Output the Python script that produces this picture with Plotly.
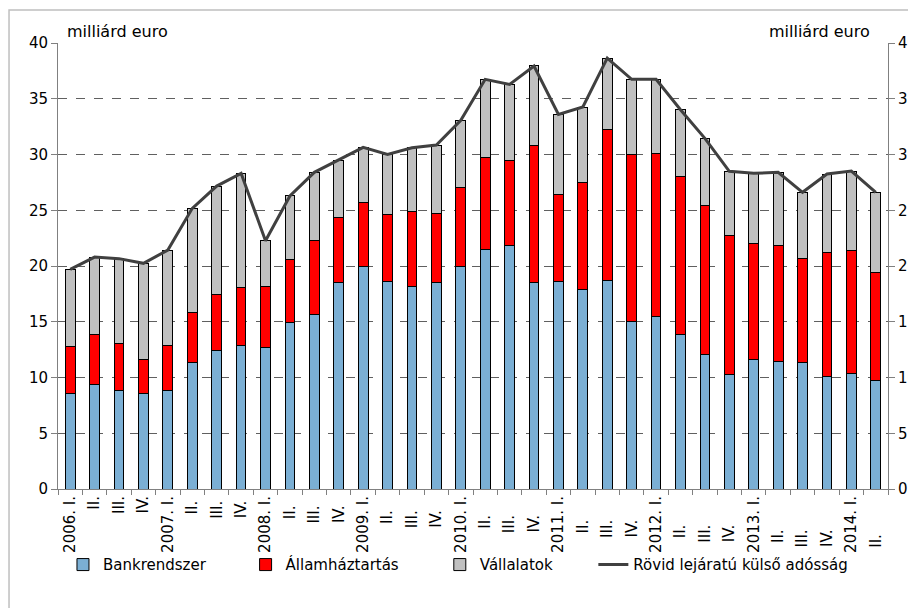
import plotly.graph_objects as go

quarters = ["2006. I.", "II.", "III.", "IV.",
            "2007. I.", "II. ", "III. ", "IV. ",
            "2008. I.", "II.  ", "III.  ", "IV.  ",
            "2009. I.", "II.   ", "III.   ", "IV.   ",
            "2010. I.", "II.    ", "III.    ", "IV.    ",
            "2011. I.", "II.     ", "III.     ", "IV.     ",
            "2012. I.", "II.      ", "III.      ", "IV.      ",
            "2013. I.", "II.       ", "III.       ", "IV.       ",
            "2014. I.", "II.        "]

# cumulative tops (milliárd euro)
bank = [8.58, 9.39, 8.79, 8.55, 8.85, 11.36, 12.44, 12.86, 12.71, 14.95, 15.67, 18.5,
        19.97, 18.6, 18.18, 18.5, 19.97, 21.5, 21.82, 18.5, 18.6, 17.85, 18.69, 15.01,
        15.46, 13.9, 12.02, 10.25, 11.6, 11.42, 11.36, 10.13, 10.34, 9.75]
red_top = [12.76, 13.87, 13.03, 11.63, 12.88, 15.85, 17.46, 18.06, 18.18, 20.6, 22.33, 24.38,
           25.68, 24.63, 24.9, 24.72, 27.02, 29.75, 29.42, 30.85, 26.43, 27.53, 32.23, 30.02,
           30.1, 28.07, 25.41, 22.78, 22.03, 21.85, 20.66, 21.23, 21.35, 19.46]
total = [19.7, 20.8, 20.66, 20.24, 21.43, 25.17, 27.17, 28.31, 22.27, 26.28, 28.4, 29.5,
         30.64, 30.01, 30.61, 30.85, 33.06, 36.74, 36.29, 37.94, 33.6, 34.26, 38.65, 36.74,
         36.74, 34.02, 31.45, 28.49, 28.31, 28.4, 26.61, 28.25, 28.52, 26.61]

allam = [round(r - b, 2) for r, b in zip(red_top, bank)]
vall = [round(t - r, 2) for t, r in zip(total, red_top)]
rovid = total

FONT = "DejaVu Sans"
outline = dict(color="black", width=1)

fig = go.Figure()
fig.add_trace(go.Bar(x=quarters, y=bank, name="Bankrendszer",
                     marker=dict(color="#7BAFD4", line=outline), legend="legend"))
fig.add_trace(go.Bar(x=quarters, y=allam, name="Államháztartás",
                     marker=dict(color="#FF0000", line=outline), legend="legend2"))
fig.add_trace(go.Bar(x=quarters, y=vall, name="Vállalatok",
                     marker=dict(color="#C0C0C0", line=outline), legend="legend3"))
fig.add_trace(go.Scatter(x=quarters, y=rovid, name="Rövid lejáratú külső adósság",
                         mode="lines", line=dict(color="#404040", width=3), legend="legend4"))
# invisible trace to activate right axis
fig.add_trace(go.Scatter(x=quarters[:1], y=[0], yaxis="y2", mode="lines",
                         line=dict(width=0), showlegend=False, hoverinfo="skip"))

leg_common = dict(orientation="h", yanchor="middle", y=-0.170, xanchor="left",
                  font=dict(family=FONT, size=15, color="black"),
                  bgcolor="rgba(0,0,0,0)")
fig.update_layout(
    barmode="stack",
    bargap=0.6,
    width=908, height=600,
    margin=dict(l=50, r=28, t=35, b=119, autoexpand=False),
    paper_bgcolor="white", plot_bgcolor="white",
    font=dict(family=FONT, size=15, color="black"),
    legend=dict(x=0.006, **leg_common),
    legend2=dict(x=0.226, **leg_common),
    legend3=dict(x=0.46, **leg_common),
    legend4=dict(x=0.645, **leg_common),
    xaxis=dict(type="category", range=[-0.5, 33.5], tickangle=-90, tickson="boundaries",
               ticks="outside", automargin=False,
               ticklen=5, tickcolor="#808080", showline=True, linecolor="#808080",
               linewidth=1, showgrid=False, tickfont=dict(family=FONT, size=15)),
    yaxis=dict(range=[0, 40], dtick=5, showgrid=True, gridcolor="#606060",
               griddash="dash", gridwidth=1, showline=True, linecolor="#808080",
               ticks="outside", ticklen=6, tickcolor="#808080", zeroline=False,
               automargin=False, tickfont=dict(family=FONT, size=15)),
    yaxis2=dict(range=[0, 40], dtick=5, overlaying="y", side="right", showgrid=False,
                showline=True, linecolor="#808080", ticks="outside", ticklen=6,
                tickcolor="#808080", zeroline=False, automargin=False,
                tickfont=dict(family=FONT, size=15)),
    shapes=[dict(type="rect", xref="paper", yref="paper", x0=-0.059, x1=1.2,
                 y0=-0.3, y1=1.074, line=dict(color="#BFBFBF", width=1.5))],
    annotations=[
        dict(text="milliárd euro", xref="paper", yref="paper", x=0.0084, y=1.0247,
             xanchor="left", yanchor="middle", showarrow=False,
             font=dict(family=FONT, size=16)),
        dict(text="milliárd euro", xref="paper", yref="paper", x=0.981, y=1.0247,
             xanchor="right", yanchor="middle", showarrow=False,
             font=dict(family=FONT, size=16)),
    ],
)

fig.write_html("out.html")
